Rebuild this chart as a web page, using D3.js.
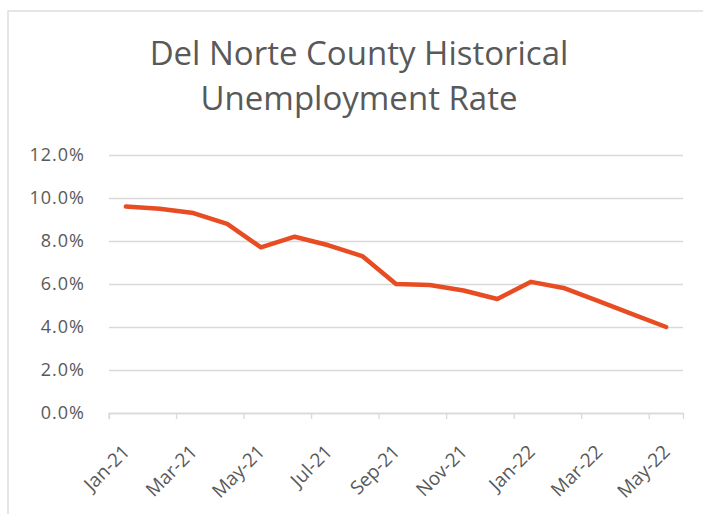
<!DOCTYPE html>
<html>
<head>
<meta charset="utf-8">
<script src="https://cdn.jsdelivr.net/npm/d3@7"></script>
<style>
  body { margin: 0; background: #fff; }
  svg { display: block; }
  text { font-family: "Open Sans", sans-serif; fill: #595959; }
  .grid line { stroke: #d9d9d9; stroke-width: 1.3; }
  .xAxis line, .xAxis path { stroke: #d9d9d9; stroke-width: 1.3; }
</style>
</head>
<body>
<div id="container"></div>
<script>
// valores
const months = ["Jan-21", "Feb-21", "Mar-21", "Apr-21", "May-21", "Jun-21", "Jul-21", "Aug-21",
                "Sep-21", "Oct-21", "Nov-21", "Dec-21", "Jan-22", "Feb-22", "Mar-22", "Apr-22", "May-22"];
const rates = [9.6, 9.5, 9.3, 8.8, 7.7, 8.2, 7.8, 7.3, 6.0, 5.95, 5.7, 5.3, 6.1, 5.8, 5.2, 4.6, 4.0];
const yTicks = [0, 2, 4, 6, 8, 10, 12];
const titleLines = ["Del Norte County Historical", "Unemployment Rate"];

const WIDTH = 703,
      HEIGHT = 514;

const margin = { top: 155, bottom: 101, left: 109, right: 20 };

const width = WIDTH - margin.left - margin.right,
      height = HEIGHT - margin.top - margin.bottom;

const svg = d3.select('#container')
    .append('svg')
    .attr("width", WIDTH)
    .attr("height", HEIGHT);

// borde del area del grafico
svg.append("rect")
    .attr("x", 8)
    .attr("y", 11)
    .attr("width", 720)
    .attr("height", 540)
    .attr("fill", "none")
    .attr("stroke", "#d9d9d9")
    .attr("stroke-width", 1.3);

const title = svg.append("text")
    .attr("text-anchor", "middle")
    .style("font-size", "33px");
titleLines.forEach((t, i) => {
    title.append("tspan")
        .attr("x", 359)
        .attr("y", 65 + i * 45)
        .text(t);
});

const container = svg.append('g')
    .attr("transform", `translate(${margin.left}, ${margin.top})`);

const xScale = d3.scaleBand()
    .domain(months)
    .range([0, width]);

const yScale = d3.scaleLinear()
    .domain([0, 12])
    .range([height, 0]);

const yAxis = d3.axisLeft(yScale)
    .tickValues(yTicks)
    .tickSize(-width)
    .tickPadding(24)
    .tickFormat(d => d.toFixed(1) + "%");

container.append("g")
    .attr("class", "grid")
    .call(yAxis)
    .call(g => g.select(".domain").remove())
    .selectAll("text")
    .style("font-size", "18px")
    .style("letter-spacing", "1px");

const step = xScale.step();
const xAxis = d3.axisBottom(xScale)
    .tickValues(months.filter((d, i) => i % 2 === 0))
    .tickSizeOuter(0)
    .tickSize(6);

const gx = container.append("g")
    .attr("class", "xAxis")
    .attr("transform", `translate(0, ${height})`)
    .call(xAxis);

gx.selectAll(".tick line")
    .attr("x1", -step / 2)
    .attr("x2", -step / 2);

gx.selectAll(".tick text")
    .style("font-size", "19px")
    .attr("text-anchor", "end")
    .attr("y", 0)
    .attr("dy", 0)
    .attr("transform", "translate(5, 40) rotate(-45)");

const line = d3.line()
    .x((d, i) => xScale(months[i]) + step / 2)
    .y(d => yScale(d));

container.append("path")
    .datum(rates)
    .attr("d", line)
    .attr("fill", "none")
    .attr("stroke", "#e84c22")
    .attr("stroke-width", 4.5)
    .attr("stroke-linejoin", "round")
    .attr("stroke-linecap", "round");
</script>
</body>
</html>
